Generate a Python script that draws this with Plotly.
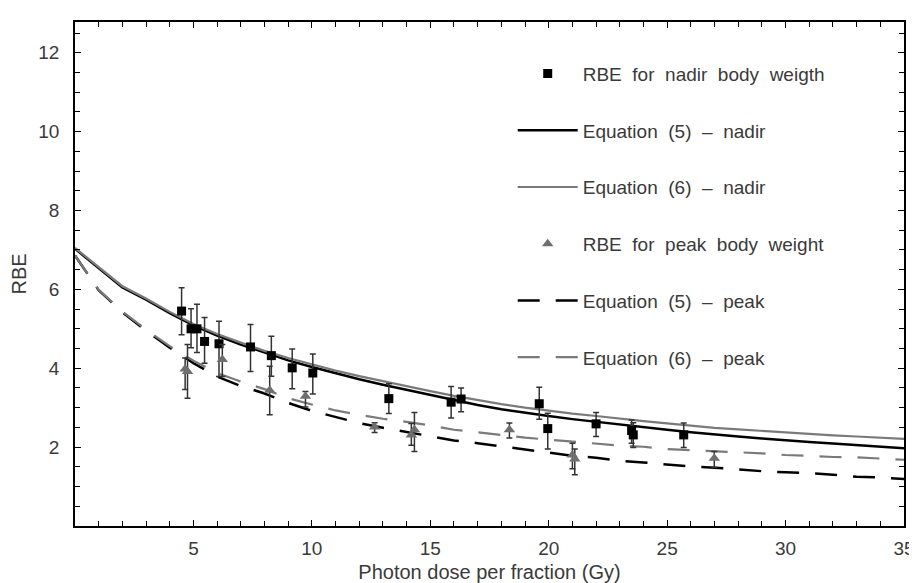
import plotly.graph_objects as go

# ---- data ----
curve_x = [0, 1, 2, 3, 4, 5, 6, 7, 8, 9, 10, 11, 12, 13, 14, 15, 16, 17, 18, 19, 20,
           21, 22, 23, 24, 25, 26, 27, 28, 29, 30, 31, 32, 33, 34, 35]
eq5_nadir = [7.03, 6.55, 6.05, 5.74, 5.40, 5.09, 4.83, 4.60, 4.39, 4.20, 4.03, 3.87, 3.72,
             3.58, 3.45, 3.32, 3.19, 3.07, 2.96, 2.87, 2.79, 2.71, 2.64, 2.57, 2.50, 2.44,
             2.38, 2.32, 2.27, 2.22, 2.17, 2.13, 2.09, 2.05, 2.01, 1.97]
eq6_nadir = [7.05, 6.57, 6.08, 5.77, 5.43, 5.12, 4.87, 4.65, 4.44, 4.26, 4.10, 3.94, 3.80,
             3.67, 3.54, 3.42, 3.30, 3.19, 3.09, 3.00, 2.92, 2.85, 2.79, 2.72, 2.66, 2.60,
             2.54, 2.49, 2.45, 2.41, 2.37, 2.33, 2.30, 2.27, 2.24, 2.21]
eq5_peak = [6.86, 5.98, 5.42, 4.95, 4.52, 4.13, 3.79, 3.55, 3.36, 3.12, 2.92, 2.77, 2.61,
            2.49, 2.38, 2.28, 2.17, 2.10, 2.02, 1.94, 1.86, 1.78, 1.73, 1.65, 1.61, 1.56,
            1.51, 1.48, 1.43, 1.39, 1.36, 1.34, 1.30, 1.25, 1.23, 1.19]
eq6_peak = [6.86, 5.99, 5.44, 4.98, 4.56, 4.19, 3.88, 3.66, 3.47, 3.24, 3.08, 2.93, 2.82,
            2.72, 2.64, 2.55, 2.44, 2.38, 2.31, 2.24, 2.19, 2.14, 2.10, 2.04, 2.01, 1.95,
            1.92, 1.90, 1.87, 1.84, 1.80, 1.78, 1.75, 1.74, 1.71, 1.68]

nadir_x = [4.5, 4.9, 5.15, 5.47, 6.08, 7.41, 8.29, 9.17, 10.04, 13.25, 15.88, 16.3, 19.6,
           19.96, 22.0, 23.5, 23.57, 25.7]
nadir_y = [5.45, 5.0, 5.0, 4.68, 4.62, 4.54, 4.32, 4.01, 3.88, 3.23, 3.14, 3.22, 3.10,
           2.47, 2.59, 2.42, 2.31, 2.31]
nadir_hi = [6.04, 5.51, 5.62, 5.29, 5.19, 5.11, 4.81, 4.49, 4.36, 3.61, 3.54, 3.50, 3.52,
            2.86, 2.88, 2.69, 2.62, 2.61]
nadir_lo = [4.85, 4.52, 4.40, 4.13, 3.79, 3.92, 3.80, 3.48, 3.35, 2.85, 2.74, 2.90, 2.71,
            1.95, 2.27, 2.10, 1.99, 1.99]

peak_x = [4.65, 4.75, 6.22, 8.22, 9.73, 12.65, 14.2, 14.33, 18.34, 21.0, 21.1, 26.99]
peak_y = [3.98, 3.92, 4.22, 3.44, 3.29, 2.51, 2.31, 2.44, 2.44, 1.80, 1.70, 1.72]
peak_hi = [4.26, 4.60, 4.60, 4.05, 3.41, 2.62, 2.60, 2.88, 2.61, 2.10, 1.95, 1.89]
peak_lo = [3.46, 3.24, 3.79, 2.82, 3.02, 2.37, 2.05, 1.89, 2.23, 1.45, 1.30, 1.49]

x_ticks = [5, 10, 15, 20, 25, 30, 35]
y_ticks = [2, 4, 6, 8, 10, 12]

SP = " \u00a0"  # the reference legend uses wide word spacing
names = [SP.join(["RBE", "for", "nadir", "body", "weigth"]),
         SP.join(["Equation", "(5)", "\u2013", "nadir"]),
         SP.join(["Equation", "(6)", "\u2013", "nadir"]),
         SP.join(["RBE", "for", "peak", "body", "weight"]),
         SP.join(["Equation", "(5)", "\u2013", "peak"]),
         SP.join(["Equation", "(6)", "\u2013", "peak"])]

FONT = "Liberation Sans, Arial, sans-serif"
GRAY = "#7a7a7a"
TXT = "#3a3a3a"

fig = go.Figure()

fig.add_trace(go.Scatter(
    x=curve_x, y=eq5_nadir, mode="lines", name=names[1], legendgroup="b", legendrank=2,
    line=dict(color="black", width=2.5)))
fig.add_trace(go.Scatter(
    x=curve_x, y=eq6_nadir, mode="lines", name=names[2], legendgroup="c", legendrank=3,
    line=dict(color=GRAY, width=2.2)))
fig.add_trace(go.Scatter(
    x=curve_x, y=eq5_peak, mode="lines", name=names[4], legendgroup="e", legendrank=5,
    line=dict(color="black", width=2.5, dash="22px,16px")))
fig.add_trace(go.Scatter(
    x=curve_x, y=eq6_peak, mode="lines", name=names[5], legendgroup="f", legendrank=6,
    line=dict(color=GRAY, width=2.2, dash="22px,16px")))

fig.add_trace(go.Scatter(
    x=nadir_x, y=nadir_y, mode="markers", name=names[0], legendgroup="a", legendrank=1,
    marker=dict(symbol="square", size=9, color="black"),
    error_y=dict(type="data", symmetric=False,
                 array=[h - v for h, v in zip(nadir_hi, nadir_y)],
                 arrayminus=[v - l for v, l in zip(nadir_y, nadir_lo)],
                 color="#333333", thickness=1.5, width=3)))
fig.add_trace(go.Scatter(
    x=peak_x, y=peak_y, mode="markers", name=names[3], legendgroup="d", legendrank=4,
    marker=dict(symbol="triangle-up", size=10, color="#6e6e6e"),
    error_y=dict(type="data", symmetric=False,
                 array=[h - v for h, v in zip(peak_hi, peak_y)],
                 arrayminus=[v - l for v, l in zip(peak_y, peak_lo)],
                 color="#333333", thickness=1.5, width=3)))

axis_common = dict(showline=True, linecolor="black", linewidth=1.5, mirror="ticks",
                   ticks="inside", tickcolor="black", showgrid=False, zeroline=False,
                   automargin=False,
                   tickfont=dict(family=FONT, size=19, color=TXT))

fig.update_xaxes(range=[0, 35], tickvals=x_ticks, ticklen=6, ticklabelstandoff=4,
                 minor=dict(dtick=1, ticks="inside", ticklen=5, tickcolor="black"),
                 title=dict(text="Photon dose per fraction (Gy)",
                            font=dict(family=FONT, size=20, color=TXT), standoff=10),
                 **axis_common)
fig.update_yaxes(range=[0, 12.78], tickvals=y_ticks, ticklen=6, ticklabelstandoff=10,
                 minor=dict(dtick=0.5, ticks="inside", ticklen=5, tickcolor="black"),
                 title=dict(text="RBE", font=dict(family=FONT, size=20, color=TXT),
                            standoff=8),
                 **axis_common)

# page body has an 8px margin; plot area placed to match the reference pixels
fig.update_layout(
    width=909, height=575,
    margin=dict(l=67, r=13, t=14, b=57),
    paper_bgcolor="white", plot_bgcolor="white",
    font=dict(family=FONT, size=19, color=TXT),
    legend=dict(x=0.528, y=0.935, xanchor="left", yanchor="top",
                bgcolor="rgba(0,0,0,0)", tracegroupgap=29, itemwidth=60,
                traceorder="grouped", font=dict(family=FONT, size=19, color=TXT)),
)

fig.write_html("out.html")
